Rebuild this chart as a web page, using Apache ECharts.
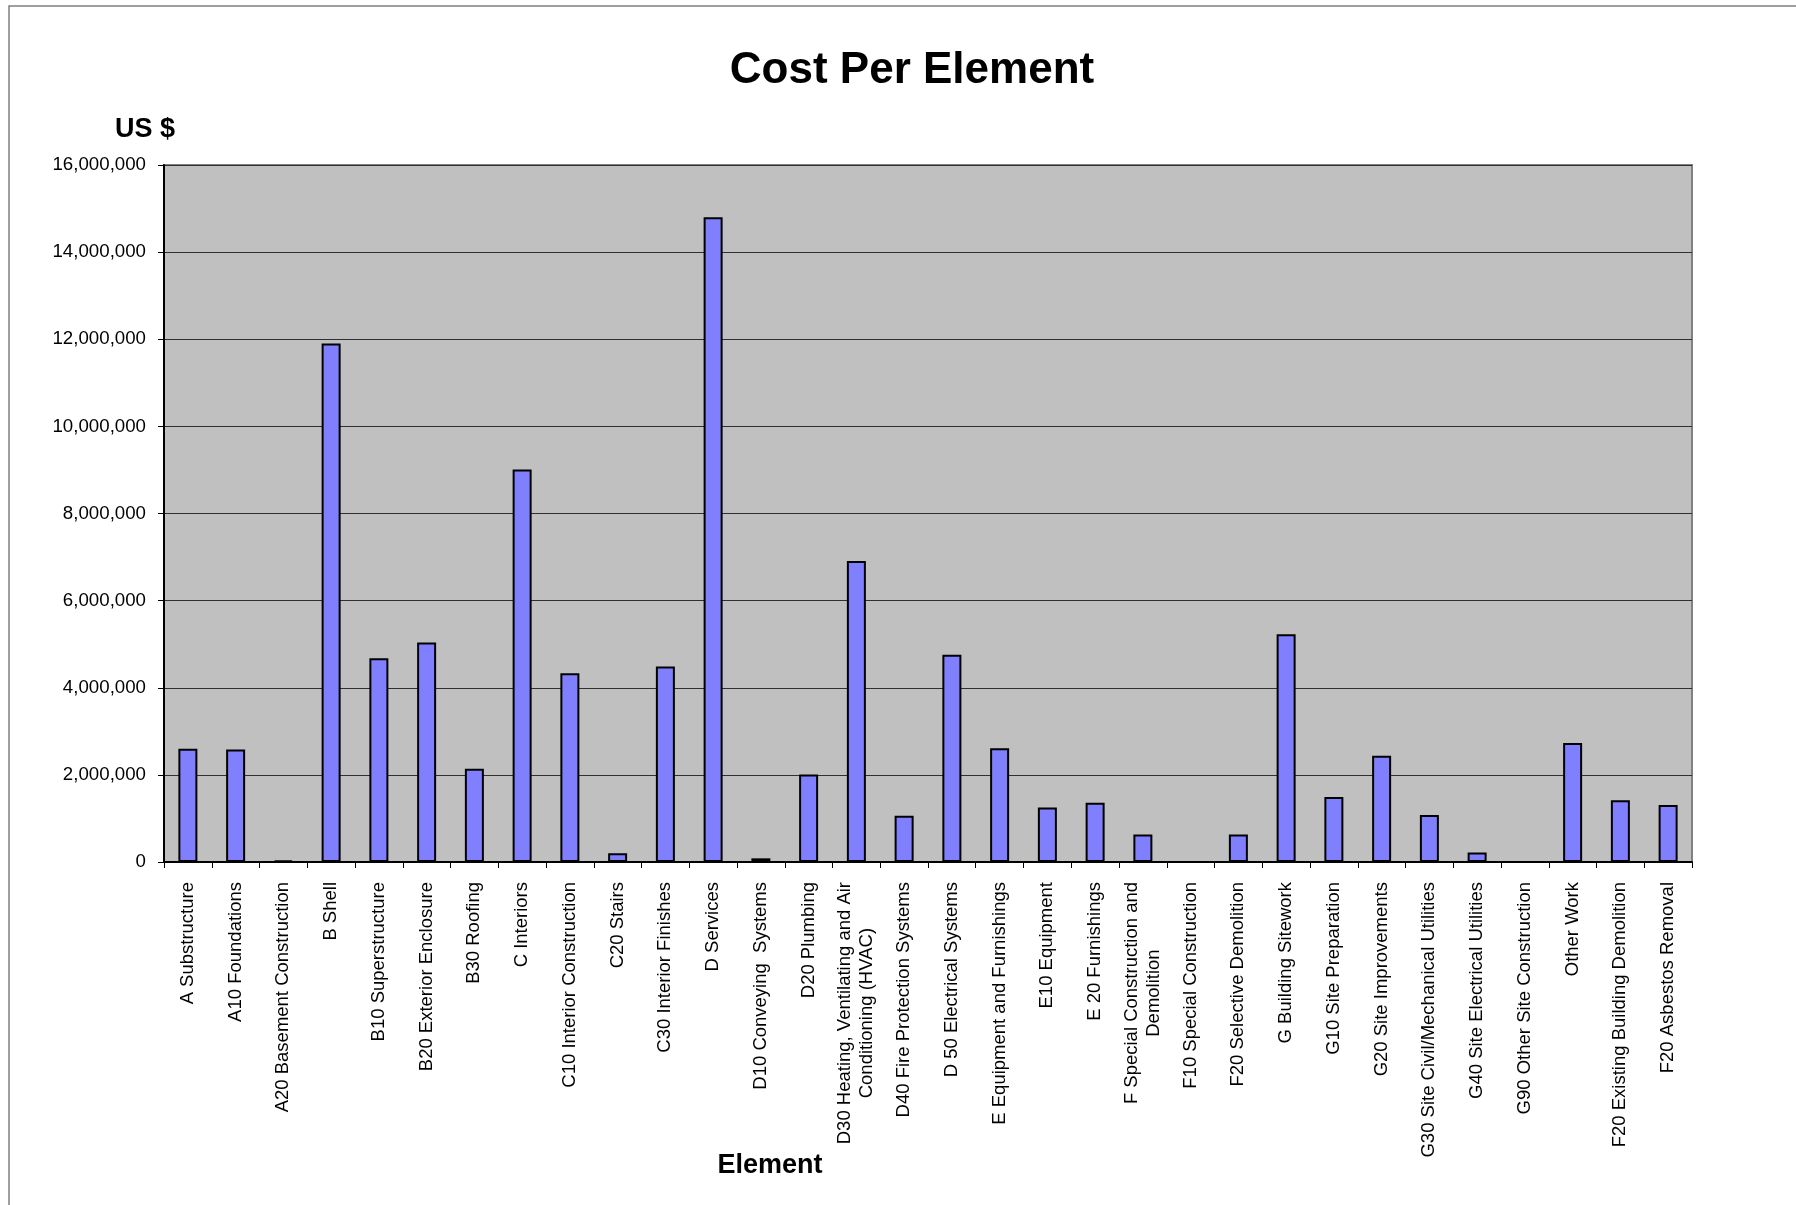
<!DOCTYPE html>
<html>
<head>
<meta charset="utf-8">
<script src="https://cdn.jsdelivr.net/npm/echarts@6/dist/echarts.min.js"></script>
<style>
html,body{margin:0;padding:0;background:#fff;}
#chart{width:1796px;height:1205px;}
</style>
</head>
<body>
<div id="chart"></div>
<script>
var categories = [
  "A Substructure",
  "A10 Foundations",
  "A20 Basement Construction",
  "B Shell",
  "B10 Superstructure",
  "B20 Exterior Enclosure",
  "B30 Roofing",
  "C Interiors",
  "C10 Interior Construction",
  "C20 Stairs",
  "C30 Interior Finishes",
  "D Services",
  "D10 Conveying  Systems",
  "D20 Plumbing",
  "D30 Heating, Ventilating and Air\nConditioning (HVAC)",
  "D40 Fire Protection Systems",
  "D 50 Electrical Systems",
  "E Equipment and Furnishings",
  "E10 Equipment",
  "E 20 Furnishings",
  "F Special Construction and\nDemolition",
  "F10 Special Construction",
  "F20 Selective Demolition",
  "G Building Sitework",
  "G10 Site Preparation",
  "G20 Site Improvements",
  "G30 Site Civil/Mechanical Utilities",
  "G40 Site Electrical Utilities",
  "G90 Other Site Construction",
  "Other Work",
  "F20 Existing Building Demolition",
  "F20 Asbestos Removal"
];
var costValues = [
  2600000, 2580000, 30000, 11900000, 4680000, 5040000, 2140000, 9010000,
  4330000, 200000, 4490000, 14800000, 84000, 2010000, 6910000, 1060000,
  4760000, 2610000, 1250000, 1360000, 630000, 0, 630000, 5230000,
  1490000, 2440000, 1080000, 220000, 0, 2730000, 1420000, 1310000
];
var yTicks = [0, 2000000, 4000000, 6000000, 8000000, 10000000, 12000000, 14000000, 16000000];

var FONT = "'Liberation Sans', Arial, Helvetica, sans-serif";
function fmt(v){ return String(v).replace(/\B(?=(\d{3})+(?!\d))/g, ","); }

var chart = echarts.init(document.getElementById('chart'));
chart.setOption({
  animation: false,
  backgroundColor: '#ffffff',
  title: {
    text: 'Cost Per Element',
    left: 907,
    top: 44,
    textAlign: 'center',
    textStyle: { fontFamily: FONT, fontSize: 44, fontWeight: 'bold', color: '#000' }
  },
  graphic: [
    { type: 'rect', shape: { x: 9, y: 6, width: 1820, height: 1230 },
      style: { fill: 'none', stroke: '#808080', lineWidth: 1.5 }, silent: true, z: -10 },
    { type: 'text', x: 145, y: 130,
      style: { text: 'US $', fontFamily: FONT, fontSize: 27, fontWeight: 'bold', fill: '#000', align: 'center', verticalAlign: 'middle' } },
    { type: 'text', x: 770, y: 1166,
      style: { text: 'Element', fontFamily: FONT, fontSize: 27, fontWeight: 'bold', fill: '#000', align: 'center', verticalAlign: 'middle' } }
  ],
  grid: {
    left: 164, right: 104, top: 165, bottom: 343,
    show: true, backgroundColor: '#C0C0C0', borderColor: '#808080', borderWidth: 2,
    containLabel: false, outerBoundsMode: 'none'
  },
  xAxis: {
    type: 'category',
    data: categories,
    boundaryGap: true,
    axisLine: { show: true, lineStyle: { color: '#000', width: 2 } },
    axisTick: { show: true, inside: false, length: 6, alignWithLabel: false, interval: 0, lineStyle: { color: '#000', width: 1 } },
    axisLabel: {
      interval: 0, rotate: 90, margin: 20,
      fontFamily: FONT, fontSize: 18.5, color: '#000',
      formatter: function (v) {
        return v.split('\n').map(function (s) { return '{c|' + s + '}'; }).join('\n');
      },
      rich: { c: { align: 'center', fontFamily: FONT, fontSize: 18.5, color: '#000', lineHeight: 22 } }
    },
    splitLine: { show: false }
  },
  yAxis: {
    type: 'value',
    min: yTicks[0], max: yTicks[yTicks.length - 1], interval: yTicks[1] - yTicks[0],
    axisLine: { show: true, lineStyle: { color: '#000', width: 2 } },
    axisTick: { show: true, inside: false, length: 6, lineStyle: { color: '#000', width: 1 } },
    axisLabel: { margin: 18, fontFamily: FONT, fontSize: 18.7, color: '#000', formatter: fmt },
    splitLine: { show: true, lineStyle: { color: '#303030', width: 1 } }
  },
  series: [{
    type: 'bar',
    data: costValues,
    barWidth: 19,
    itemStyle: { color: '#8080FF', borderColor: '#000', borderWidth: 2 }
  }]
});
</script>
</body>
</html>
